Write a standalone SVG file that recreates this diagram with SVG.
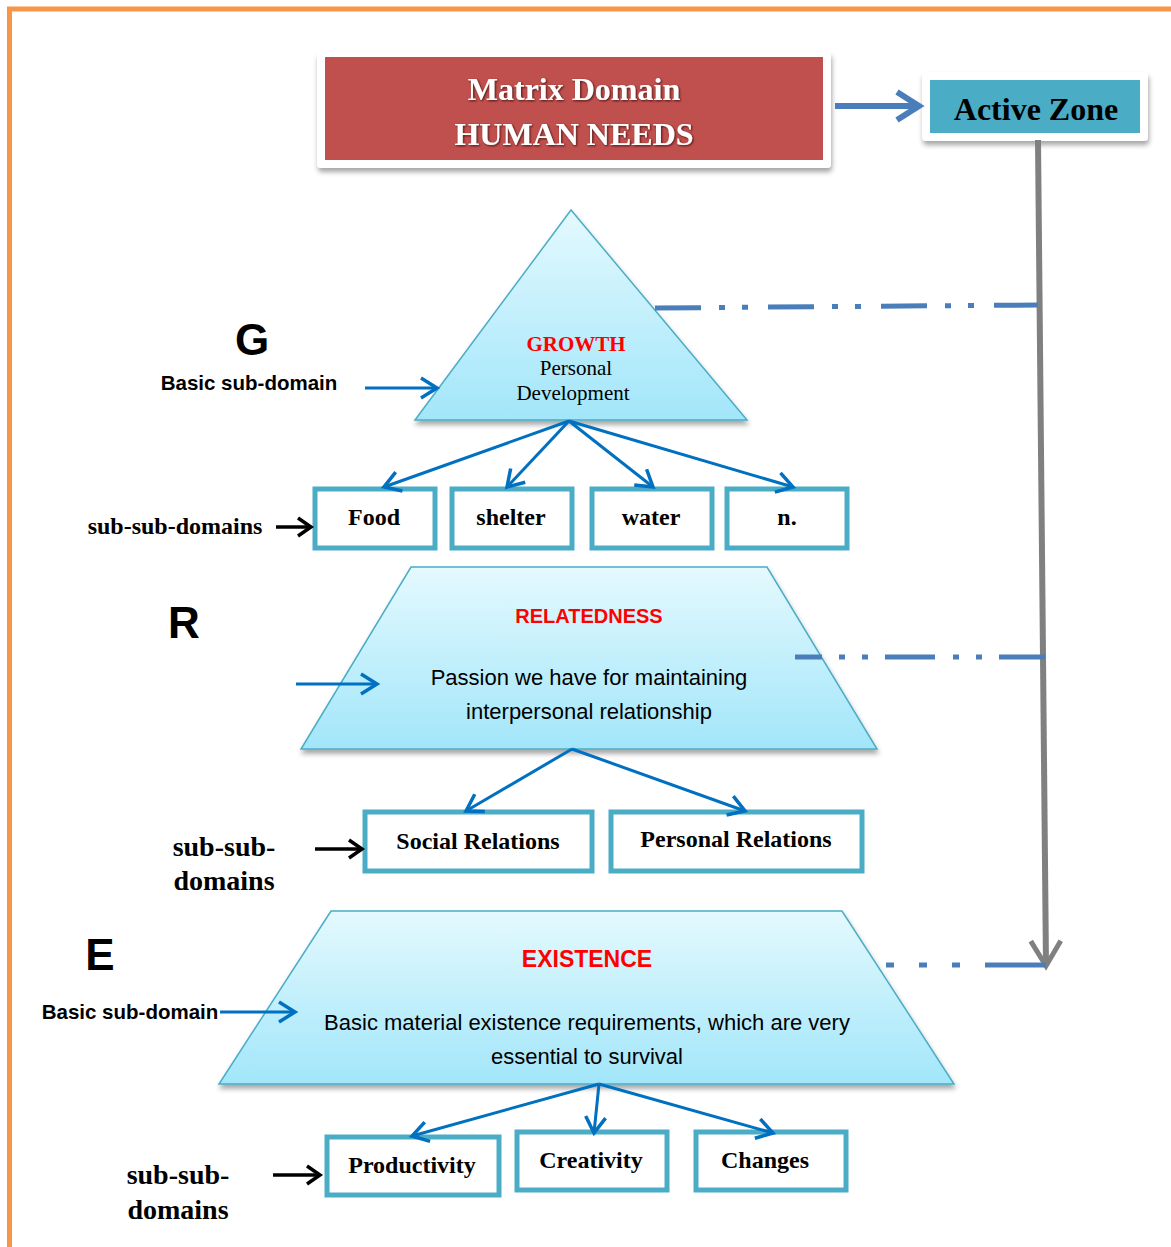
<svg xmlns="http://www.w3.org/2000/svg" width="1171" height="1247" viewBox="0 0 1171 1247">
<defs>
<linearGradient id="cyan" x1="0" y1="0" x2="0" y2="1">
<stop offset="0" stop-color="#E4F9FE"/>
<stop offset="1" stop-color="#A2E6FA"/>
</linearGradient>
<filter id="sh" x="-10%" y="-10%" width="120%" height="130%">
<feDropShadow dx="1" dy="4" stdDeviation="2.5" flood-color="#000" flood-opacity="0.35"/>
</filter>
<filter id="tsh" x="-10%" y="-20%" width="120%" height="150%">
<feDropShadow dx="1" dy="1" stdDeviation="1" flood-color="#3a1010" flood-opacity="0.9"/>
</filter>
<marker id="ab" viewBox="0 0 22 24" refX="19" refY="12" markerWidth="22" markerHeight="24" markerUnits="userSpaceOnUse" orient="auto" overflow="visible">
<path d="M3,2 L19,12 L3,22" fill="none" stroke="#0070C0" stroke-width="3.5"/>
</marker>
<marker id="ak" viewBox="0 0 20 22" refX="17" refY="11" markerWidth="20" markerHeight="22" markerUnits="userSpaceOnUse" orient="auto" overflow="visible">
<path d="M4,2 L17,11 L4,20" fill="none" stroke="#000" stroke-width="3.5"/>
</marker>
<marker id="ag" viewBox="0 0 30 34" refX="27" refY="17" markerWidth="30" markerHeight="34" markerUnits="userSpaceOnUse" orient="auto" overflow="visible">
<path d="M2,2 L27,17 L2,32" fill="none" stroke="#808080" stroke-width="5"/>
</marker>
<marker id="ah" viewBox="0 0 28 32" refX="25" refY="16" markerWidth="28" markerHeight="32" markerUnits="userSpaceOnUse" orient="auto" overflow="visible">
<path d="M3,2 L25,16 L3,30" fill="none" stroke="#4A7EBB" stroke-width="6"/>
</marker>
</defs>
<style>
.shape{fill:url(#cyan);stroke:#4BACC6;stroke-width:1.5;filter:url(#sh)}
.box{fill:#fff;stroke:#4BACC6;stroke-width:5}
.bt{font-family:"Liberation Serif",serif;font-weight:bold;font-size:24px;fill:#000;text-anchor:middle}
.lbl{font-family:"Liberation Serif",serif;font-weight:bold;font-size:24px;fill:#000;text-anchor:middle}
.lbl2{font-family:"Liberation Serif",serif;font-weight:bold;font-size:28px;fill:#000;text-anchor:middle}
.sans{font-family:"Liberation Sans",sans-serif;fill:#000;text-anchor:middle}
.big{font-family:"Liberation Sans",sans-serif;font-weight:bold;font-size:44px;fill:#000;text-anchor:middle}
.red{fill:#FF0000;font-weight:bold}
.blue{stroke:#0070C0;stroke-width:3;fill:none;marker-end:url(#ab)}
.blk{stroke:#000;stroke-width:3.5;fill:none;marker-end:url(#ak)}
.dash{stroke:#4A7EBB;stroke-width:5;fill:none}
</style>
<rect width="1171" height="1247" fill="#fff"/>
<path d="M9.5,1247 L9.5,9 L1171,9" fill="none" stroke="#F79646" stroke-width="5"/>

<g id="matrix-domain">
<rect x="317" y="52" width="514" height="116" rx="4" fill="#fff" filter="url(#sh)"/>
<rect x="325" y="57" width="498" height="103" fill="#C0504D"/>
<g filter="url(#tsh)" font-family="Liberation Serif,serif" font-weight="bold" fill="#fff" text-anchor="middle">
<text x="574" y="100" font-size="32">Matrix Domain</text>
<text x="574" y="145" font-size="32">HUMAN NEEDS</text>
</g>
</g>

<g id="active-zone">
<rect x="922" y="72" width="226" height="69" rx="4" fill="#fff" filter="url(#sh)"/>
<rect x="930" y="80" width="210" height="53" fill="#4BACC6"/>
<text x="1036" y="120" font-family="Liberation Serif,serif" font-weight="bold" font-size="32" text-anchor="middle" fill="#000">Active Zone</text>
</g>

<g id="growth">
<polygon class="shape" points="571,210 747,420 415,420"/>
<text class="red" x="576" y="351" font-family="Liberation Serif,serif" font-size="21" text-anchor="middle">GROWTH</text>
<text x="576" y="375" font-family="Liberation Serif,serif" font-size="21" text-anchor="middle">Personal</text>
<text x="573" y="400" font-family="Liberation Serif,serif" font-size="21" text-anchor="middle">Development</text>
</g>
<g id="label-g">
<text class="big" x="252" y="355">G</text>
<text class="sans" x="249" y="390" font-weight="bold" font-size="20.5">Basic sub-domain</text>
</g>

<g id="food"><rect class="box" x="315" y="489" width="120" height="59"/><text class="bt" x="374" y="525">Food</text></g>
<g id="shelter"><rect class="box" x="452" y="489" width="120" height="59"/><text class="bt" x="511" y="525">shelter</text></g>
<g id="water"><rect class="box" x="592" y="489" width="120" height="59"/><text class="bt" x="651" y="525">water</text></g>
<g id="n"><rect class="box" x="727" y="489" width="120" height="59"/><text class="bt" x="787" y="525">n.</text></g>
<g id="label-ssd1"><text class="lbl" x="175" y="534">sub-sub-domains</text></g>

<g id="relatedness">
<polygon class="shape" points="411,567 767,567 877,749 301,749"/>
<text class="sans red" x="589" y="623" font-size="20">RELATEDNESS</text>
<text class="sans" x="589" y="685" font-size="22">Passion we have for maintaining</text>
<text class="sans" x="589" y="719" font-size="22">interpersonal relationship</text>
</g>
<g id="label-r"><text class="big" x="184" y="638">R</text></g>

<g id="social"><rect class="box" x="365" y="812" width="227" height="59"/><text class="bt" x="478" y="849">Social Relations</text></g>
<g id="personal"><rect class="box" x="611" y="812" width="251" height="59"/><text class="bt" x="736" y="847">Personal Relations</text></g>
<g id="label-ssd2"><text class="lbl2" x="224" y="856">sub-sub-</text><text class="lbl2" x="224" y="890">domains</text></g>

<g id="existence">
<polygon class="shape" points="331,911 842,911 954,1084 219,1084"/>
<text class="sans red" x="587" y="967" font-size="23">EXISTENCE</text>
<text class="sans" x="587" y="1030" font-size="22">Basic material existence requirements, which are very</text>
<text class="sans" x="587" y="1064" font-size="22">essential to survival</text>
</g>
<g id="label-e">
<text class="big" x="100" y="970">E</text>
<text class="sans" x="130" y="1019" font-weight="bold" font-size="20.5">Basic sub-domain</text>
</g>

<g id="productivity"><rect class="box" x="327" y="1137" width="172" height="58"/><text class="bt" x="412" y="1173">Productivity</text></g>
<g id="creativity"><rect class="box" x="517" y="1132" width="150" height="58"/><text class="bt" x="591" y="1168">Creativity</text></g>
<g id="changes"><rect class="box" x="696" y="1132" width="150" height="58"/><text class="bt" x="765" y="1168">Changes</text></g>
<g id="label-ssd3"><text class="lbl2" x="178" y="1184">sub-sub-</text><text class="lbl2" x="178" y="1219">domains</text></g>

<g id="connectors">
<line x1="835" y1="106" x2="919" y2="106" stroke="#4A7EBB" stroke-width="6" marker-end="url(#ah)"/>
<line x1="1038" y1="140" x2="1046" y2="966" stroke="#808080" stroke-width="6" marker-end="url(#ag)"/>
<line class="dash" x1="655" y1="308" x2="1038" y2="305" stroke-dasharray="46 18 6 17 6 20"/>
<line class="dash" x1="795" y1="657" x2="1046" y2="657" stroke-dasharray="27 17 6 17 6 17 50 18 6 17 6 17 46"/>
<line class="dash" x1="886" y1="965" x2="1046" y2="965" stroke-dasharray="8 25 8 25 8 25 61"/>
<line class="blue" x1="365" y1="388" x2="437" y2="388"/>
<line class="blue" x1="569" y1="421" x2="384" y2="487"/>
<line class="blue" x1="569" y1="421" x2="507" y2="487"/>
<line class="blue" x1="569" y1="421" x2="653" y2="487"/>
<line class="blue" x1="569" y1="421" x2="793" y2="487"/>
<line class="blk" x1="276" y1="527" x2="311" y2="527"/>
<line class="blue" x1="296" y1="684" x2="377" y2="684"/>
<line class="blue" x1="572" y1="749" x2="466" y2="811"/>
<line class="blue" x1="572" y1="749" x2="745" y2="811"/>
<line class="blk" x1="315" y1="849" x2="362" y2="849"/>
<line class="blue" x1="220" y1="1012" x2="295" y2="1012"/>
<line class="blue" x1="599" y1="1084" x2="412" y2="1136"/>
<line class="blue" x1="599" y1="1084" x2="594" y2="1133"/>
<line class="blue" x1="599" y1="1084" x2="773" y2="1133"/>
<line class="blk" x1="273" y1="1175" x2="320" y2="1175"/>
</g>
</svg>
